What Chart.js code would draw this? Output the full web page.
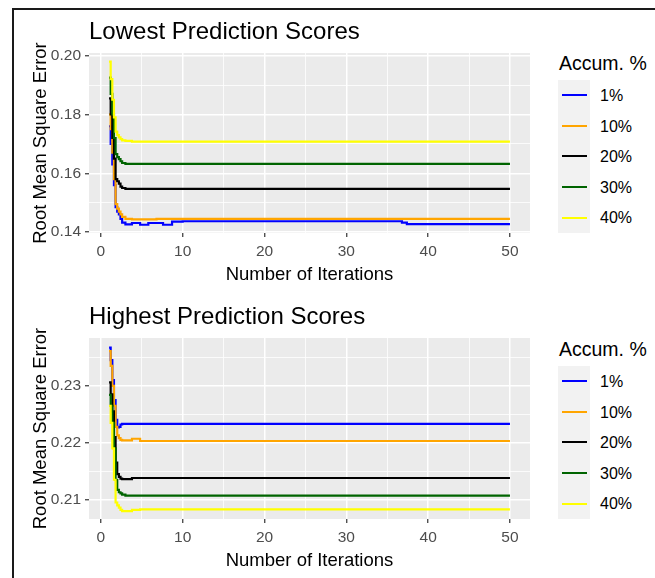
<!DOCTYPE html>
<html>
<head>
<meta charset="utf-8">
<script src="https://cdn.jsdelivr.net/npm/chart.js@4.4.0/dist/chart.umd.min.js"></script>
<style>
    html, body { margin: 0; padding: 0; background: #fff; }
    body { width: 655px; height: 578px; position: relative; overflow: hidden; font-family: "Liberation Sans", Arial, sans-serif; }
    .frame { position: absolute; left: 12px; top: 8px; width: 700px; height: 620px; border-left: 2px solid #1a1a1a; border-top: 2px solid #1a1a1a; }
    canvas { position: absolute; left: 0; }
    .ptitle { position: absolute; left: 89px; font-size: 24px; line-height: 1; color: #000; white-space: nowrap; }
    .ltitle { position: absolute; left: 559px; font-size: 19.5px; line-height: 1; color: #000; white-space: nowrap; }
    .lbox { position: absolute; left: 558px; width: 32px; height: 153px; background: #F2F2F2; }
    .lrow { position: absolute; left: 0; width: 90px; height: 30.6px; }
    .lkey { position: absolute; left: 4px; width: 25px; height: 2px; top: 14.3px; }
    .llab { position: absolute; left: 42px; top: 1px; line-height: 30.6px; font-size: 16px; color: #000; white-space: nowrap; }
</style>
</head>
<body>
<div class="frame"></div>
<canvas id="lowChart" width="545" height="290" style="top:0px"></canvas>
<canvas id="highChart" width="545" height="286" style="top:290px"></canvas>
<div class="ptitle" style="top:19px">Lowest Prediction Scores</div>
<div class="ptitle" style="top:304px">Highest Prediction Scores</div>
<div class="ltitle" style="top:54px">Accum. %</div>
<div class="ltitle" style="top:340px">Accum. %</div>
<div class="lbox" id="lowLegend" style="top:80px"></div>
<div class="lbox" id="highLegend" style="top:366px"></div>
<script>

var iterations = [1, 1.2, 1.4, 1.6, 1.8, 2, 2.2, 2.4, 2.6, 3, 3.8, 4.8, 5.8, 6.8, 7.6, 8.7, 10, 20, 30, 36.8, 37.4, 50];

var accumLabels = ['1%', '10%', '20%', '30%', '40%'];
var accumColors = ['#0000FF', '#FFA500', '#000000', '#006400', '#FFFF00'];

// Lowest Prediction Scores
var lowest1  = [0.1760, 0.1700, 0.1630, 0.1560, 0.1485, 0.1470, 0.1460, 0.1445, 0.1432, 0.1426, 0.1431, 0.1425, 0.1431, 0.1431, 0.1425, 0.1436, 0.1437, 0.1437, 0.1437, 0.1432, 0.1427, 0.1427];
var lowest10 = [0.1800, 0.1750, 0.1670, 0.1580, 0.1495, 0.1480, 0.1470, 0.1460, 0.1452, 0.1445, 0.1443, 0.1443, 0.1443, 0.1445, 0.1445, 0.1445, 0.1445, 0.1445, 0.1445, 0.1445, 0.1445, 0.1445];
var lowest20 = [0.1855, 0.1800, 0.1720, 0.1650, 0.1580, 0.1573, 0.1565, 0.1555, 0.1550, 0.1547, 0.1547, 0.1547, 0.1547, 0.1547, 0.1547, 0.1547, 0.1547, 0.1547, 0.1547, 0.1547, 0.1547, 0.1547];
var lowest30 = [0.1925, 0.1870, 0.1800, 0.1720, 0.1665, 0.1655, 0.1648, 0.1641, 0.1635, 0.1632, 0.1632, 0.1632, 0.1632, 0.1632, 0.1632, 0.1632, 0.1632, 0.1632, 0.1632, 0.1632, 0.1632, 0.1632];
var lowest40 = [0.1980, 0.1920, 0.1850, 0.1790, 0.1742, 0.1730, 0.1722, 0.1716, 0.1712, 0.1710, 0.1708, 0.1708, 0.1708, 0.1708, 0.1708, 0.1708, 0.1708, 0.1708, 0.1708, 0.1708, 0.1708, 0.1708];

// Highest Prediction Scores
var highest1  = [0.2367, 0.2345, 0.2310, 0.2275, 0.2240, 0.2227, 0.2228, 0.2232, 0.2233, 0.2233, 0.2233, 0.2233, 0.2233, 0.2233, 0.2233, 0.2233, 0.2233, 0.2233, 0.2233, 0.2233, 0.2233, 0.2233];
var highest10 = [0.2361, 0.2335, 0.2300, 0.2265, 0.2228, 0.2213, 0.2208, 0.2205, 0.2204, 0.2204, 0.2207, 0.2203, 0.2203, 0.2203, 0.2203, 0.2203, 0.2203, 0.2203, 0.2203, 0.2203, 0.2203, 0.2203];
var highest20 = [0.2306, 0.2285, 0.2255, 0.2210, 0.2165, 0.2145, 0.2140, 0.2137, 0.2136, 0.2136, 0.2138, 0.2138, 0.2138, 0.2138, 0.2138, 0.2138, 0.2138, 0.2138, 0.2138, 0.2138, 0.2138, 0.2138];
var highest30 = [0.2284, 0.2265, 0.2235, 0.2190, 0.2135, 0.2117, 0.2113, 0.2111, 0.2109, 0.2107, 0.2107, 0.2107, 0.2107, 0.2107, 0.2107, 0.2107, 0.2107, 0.2107, 0.2107, 0.2107, 0.2107, 0.2107];
var highest40 = [0.2265, 0.2235, 0.2190, 0.2135, 0.2095, 0.2090, 0.2086, 0.2082, 0.2080, 0.2080, 0.2082, 0.2083, 0.2083, 0.2083, 0.2083, 0.2083, 0.2083, 0.2083, 0.2083, 0.2083, 0.2083, 0.2083];

// axis ticks (majors are labelled, the rest are minor grid lines)
var xGrid = [0, 5, 10, 15, 20, 25, 30, 35, 40, 45, 50];
var xMajor = [0, 10, 20, 30, 40, 50];
var lowYGrid = [0.14, 0.15, 0.16, 0.17, 0.18, 0.19, 0.20];
var lowYMajor = [0.14, 0.16, 0.18, 0.20];
var highYGrid = [0.21, 0.215, 0.22, 0.225, 0.23, 0.235];
var highYMajor = [0.21, 0.22, 0.23];

Chart.defaults.font.family = '"Liberation Sans", Arial, sans-serif';

var panelBg = {
    id: 'panelBg',
    beforeDraw: function (chart) {
        var a = chart.chartArea;
        var ctx = chart.ctx;
        ctx.save();
        ctx.fillStyle = '#EBEBEB';
        ctx.fillRect(a.left, a.top, a.right - a.left, a.bottom - a.top);
        ctx.restore();
    }
};

function buildLegend(id) {
    var box = document.getElementById(id);
    for (var i = 0; i < accumLabels.length; i++) {
        var row = document.createElement('div');
        row.className = 'lrow';
        row.style.top = (i * 30.6) + 'px';
        var key = document.createElement('div');
        key.className = 'lkey';
        key.style.background = accumColors[i];
        var lab = document.createElement('div');
        lab.className = 'llab';
        lab.textContent = accumLabels[i];
        row.appendChild(key);
        row.appendChild(lab);
        box.appendChild(row);
    }
}

function isIn(list, v) {
    for (var i = 0; i < list.length; i++) {
        if (Math.abs(list[i] - v) < 1e-9) return true;
    }
    return false;
}

function initchart(canvasId, series, yMin, yMax, yGrid, yMajor, padTop) {

    // each value holds until the next iteration mark (horizontal, then vertical)
    const datasets = series.map(function (values, i) {
        return {
            label: accumLabels[i],
            data: iterations.map(function (x, j) { return { x: x, y: values[j] }; }),
            borderColor: accumColors[i],
            backgroundColor: accumColors[i],
            borderWidth: 2.2,
            pointRadius: 0,
            stepped: 'before',
            fill: false,
            order: series.length - i
        };
    });

    const config = {
        type: 'line',
        data: { datasets: datasets },
        options: {
            responsive: false,
            animation: false,
            layout: { padding: { left: 14, right: 15, top: padTop, bottom: 0 } },
            plugins: {
                legend: { display: false },
                tooltip: { enabled: false }
            },
            scales: {
                x: {
                    type: 'linear',
                    min: -1.45,
                    max: 52.45,
                    afterBuildTicks: (scale) => { scale.ticks = xGrid.map(v => ({ value: v })); },
                    afterFit: (scale) => { scale.height = 57; },
                    border: { display: false },
                    grid: {
                        color: '#FFFFFF',
                        lineWidth: (ctx) => isIn(xMajor, ctx.tick.value) ? 1.5 : 0.8,
                        tickColor: (ctx) => isIn(xMajor, ctx.tick.value) ? '#333333' : 'rgba(0,0,0,0)',
                        tickWidth: 1.2,
                        tickLength: 4
                    },
                    ticks: {
                        autoSkip: false,
                        maxRotation: 0,
                        padding: 5,
                        color: '#4D4D4D',
                        font: { size: 15.5 },
                        callback: (value) => isIn(xMajor, value) ? String(value) : ''
                    },
                    title: {
                        display: true,
                        text: 'Number of Iterations',
                        color: '#000000',
                        font: { size: 18.5 },
                        padding: { top: 0, bottom: 4 }
                    }
                },
                y: {
                    type: 'linear',
                    min: yMin,
                    max: yMax,
                    afterBuildTicks: (scale) => { scale.ticks = yGrid.map(v => ({ value: v })); },
                    afterFit: (scale) => { scale.width = 75; },
                    border: { display: false },
                    grid: {
                        color: '#FFFFFF',
                        lineWidth: (ctx) => isIn(yMajor, ctx.tick.value) ? 1.5 : 0.8,
                        tickColor: (ctx) => isIn(yMajor, ctx.tick.value) ? '#333333' : 'rgba(0,0,0,0)',
                        tickWidth: 1.2,
                        tickLength: 4
                    },
                    ticks: {
                        autoSkip: false,
                        padding: 4,
                        color: '#4D4D4D',
                        font: { size: 15.5 },
                        callback: (value) => isIn(yMajor, value) ? value.toFixed(2) : ''
                    },
                    title: {
                        display: true,
                        text: 'Root Mean Square Error',
                        color: '#000000',
                        font: { size: 18.5 },
                        padding: { top: 16, bottom: 0 }
                    }
                }
            }
        },
        plugins: [panelBg]
    };

    const myChart = new Chart(
        document.getElementById(canvasId),
        config
    );
}

buildLegend('lowLegend');
buildLegend('highLegend');
initchart('lowChart', [lowest1, lowest10, lowest20, lowest30, lowest40], 0.1397, 0.2009, lowYGrid, lowYMajor, 53);
initchart('highChart', [highest1, highest10, highest20, highest30, highest40], 0.2066, 0.2384, highYGrid, highYMajor, 48);
</script>
</body>
</html>
